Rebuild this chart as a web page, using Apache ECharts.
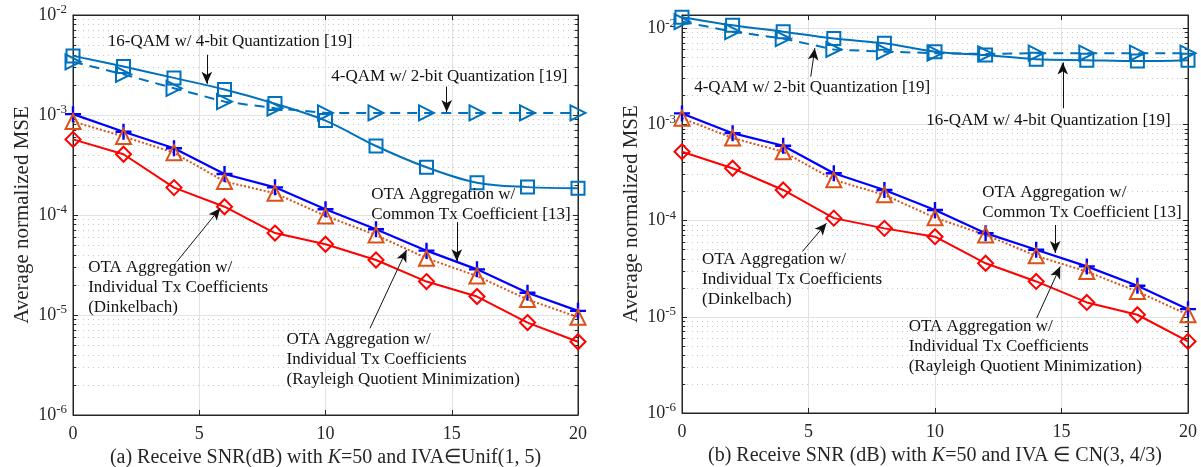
<!DOCTYPE html>
<html>
<head>
<meta charset="utf-8">
<script src="https://cdn.jsdelivr.net/npm/echarts@6/dist/echarts.min.js"></script>
<style>
  html, body { margin: 0; padding: 0; background: #fff; }
  #chart { width: 1201px; height: 467px; }
</style>
</head>
<body>
<div id="chart"></div>
<script>
// receive SNR (dB)
var snr = [0, 2, 4, 6, 8, 10, 12, 14, 16, 18, 20];

// (a) IVA ~ Unif(1, 5)
var qam16A  = [3.9e-3, 3.05e-3, 2.35e-3, 1.8e-3, 1.3e-3, 8.8e-4, 4.9e-4, 3.0e-4, 2.1e-4, 1.9e-4, 1.85e-4];
var qam4A   = [3.4e-3, 2.55e-3, 1.85e-3, 1.36e-3, 1.17e-3, 1.05e-3, 1.05e-3, 1.05e-3, 1.05e-3, 1.05e-3, 1.05e-3];
var commonA = [1.02e-3, 6.8e-4, 4.65e-4, 2.57e-4, 1.89e-4, 1.14e-4, 7.2e-5, 4.4e-5, 2.86e-5, 1.67e-5, 1.1e-5];
var rqA     = [8.6e-4, 6.1e-4, 4.2e-4, 2.16e-4, 1.65e-4, 9.8e-5, 6.3e-5, 3.7e-5, 2.45e-5, 1.43e-5, 9.5e-6];
var dinkA   = [5.7e-4, 4.05e-4, 1.88e-4, 1.21e-4, 6.6e-5, 5.1e-5, 3.55e-5, 2.16e-5, 1.53e-5, 8.4e-6, 5.4e-6];

// (b) IVA ~ CN(3, 4/3)
var qam16B  = [1.3e-2, 1.07e-2, 9.2e-3, 7.8e-3, 6.95e-3, 5.7e-3, 5.25e-3, 4.75e-3, 4.65e-3, 4.55e-3, 4.65e-3];
var qam4B   = [1.17e-2, 9.2e-3, 7.8e-3, 6.0e-3, 5.7e-3, 5.5e-3, 5.4e-3, 5.5e-3, 5.5e-3, 5.5e-3, 5.5e-3];
var commonB = [1.3e-3, 8.1e-4, 6.0e-4, 3.1e-4, 2.08e-4, 1.29e-4, 7.4e-5, 4.97e-5, 3.34e-5, 2.1e-5, 1.2e-5];
var rqB     = [1.16e-3, 7.2e-4, 5.2e-4, 2.65e-4, 1.85e-4, 1.07e-4, 7.1e-5, 4.3e-5, 2.95e-5, 1.83e-5, 1.05e-5];
var dinkB   = [5.2e-4, 3.5e-4, 2.08e-4, 1.06e-4, 8.3e-5, 6.8e-5, 3.6e-5, 2.33e-5, 1.41e-5, 1.05e-5, 5.55e-6];

var yMin = 1e-6;
var yMaxA = 1e-2;
var yMaxB = 0.0137;

var xNameA = '(a) Receive SNR(dB) with {i|K}=50 and IVA\u2208Unif(1, 5)';
var xNameB = '(b) Receive SNR (dB) with {i|K}=50 and IVA \u2208 CN(3, 4/3)';
var yName = 'Average normalized MSE';

// annotation text, text anchor (top-left), arrow start, arrow tip
var notesA = [
    {text: '16-QAM w/ 4-bit Quantization [19]', at: [1.4, 6.8e-3], from: [5.3, 4.0e-3], to: [5.3, 2.05e-3]},
    {text: '4-QAM w/ 2-bit Quantization [19]', at: [10.25, 3.04e-3], from: [14.8, 1.92e-3], to: [14.8, 1.07e-3]},
    {text: 'OTA Aggregation w/\nCommon Tx Coefficient [13]', at: [11.83, 2.0e-4], from: [15.2, 8.5e-5], to: [15.2, 3.45e-5]},
    {text: 'OTA Aggregation w/\nIndividual Tx Coefficients\n(Dinkelbach)', at: [0.62, 3.69e-5], from: [4.11, 3.41e-5], to: [5.83, 1.17e-4]},
    {text: 'OTA Aggregation w/\nIndividual Tx Coefficients\n(Rayleigh Quotient Minimization)', at: [8.48, 7.08e-6], from: [11.76, 7.35e-6], to: [13.21, 4.47e-5]}
];
var notesB = [
    {text: '4-QAM w/ 2-bit Quantization [19]', at: [0.5, 3.01e-3], from: [5.09, 3.13e-3], to: [5.25, 6.2e-3]},
    {text: '16-QAM w/ 4-bit Quantization [19]', at: [9.67, 1.36e-3], from: [15.05, 1.47e-3], to: [15.05, 4.4e-3]},
    {text: 'OTA Aggregation w/\nCommon Tx Coefficient [13]', at: [11.89, 2.48e-4], from: [14.75, 9.0e-5], to: [14.75, 4.6e-5]},
    {text: 'OTA Aggregation w/\nIndividual Tx Coefficients\n(Dinkelbach)', at: [0.81, 4.97e-5], from: [4.76, 4.77e-5], to: [5.71, 9.4e-5]},
    {text: 'OTA Aggregation w/\nIndividual Tx Coefficients\n(Rayleigh Quotient Minimization)', at: [8.98, 9.93e-6], from: [14.02, 9.7e-6], to: [14.95, 3.33e-5]}
];

var FONT = 'Liberation Serif, Times New Roman, serif';
var INK = '#262626';
var MBLUE = '#0072BD';
var plus = 'path://M0,6L12,6M6,0L6,12';

var myChart = echarts.init(document.getElementById('chart'));

function powLabel(v) {
    var l = Math.log10(v);
    var e = Math.round(l);
    if (Math.abs(l - e) > 1e-6) return '';
    return '10{s|' + e + '}';
}

// dotted minor grid lines plus short minor ticks on both y borders
function minorLines(maxV) {
    var out = [];
    for (var k = -6; k <= -2; k++) {
        for (var m = 2; m <= 9; m++) {
            var v = m * Math.pow(10, k);
            if (v >= maxV) continue;
            out.push([{coord: [0, v]}, {coord: [20, v]}]);
            out.push([{coord: [0, v], lineStyle: {color: INK, type: 'solid', width: 1}}, {coord: [0.13, v]}]);
            out.push([{coord: [19.87, v], lineStyle: {color: INK, type: 'solid', width: 1}}, {coord: [20, v]}]);
        }
    }
    return out;
}

function xAxes(g, name) {
    return [{
        type: 'value', gridIndex: g, min: 0, max: 20, interval: 5,
        name: name, nameLocation: 'middle', nameGap: 33,
        nameTextStyle: {fontSize: 20, fontFamily: FONT, color: INK,
            rich: {i: {fontSize: 20, fontFamily: FONT, color: INK, fontStyle: 'italic'}}},
        axisLine: {show: true, onZero: false, lineStyle: {color: INK, width: 1}},
        axisTick: {inside: true, length: 5, lineStyle: {color: INK}},
        axisLabel: {fontSize: 18, fontFamily: FONT, color: INK, margin: 10},
        splitLine: {show: true, lineStyle: {color: '#e2e2e2', width: 1}}
    }, {
        type: 'value', gridIndex: g, min: 0, max: 20, interval: 5, position: 'top',
        axisLine: {show: true, onZero: false, lineStyle: {color: INK, width: 1}},
        axisTick: {inside: true, length: 5, lineStyle: {color: INK}},
        axisLabel: {show: false}, splitLine: {show: false}
    }];
}

function yAxes(g, maxV, gap) {
    return [{
        type: 'log', logBase: 10, gridIndex: g, min: yMin, max: maxV,
        name: yName, nameLocation: 'middle', nameGap: gap,
        nameTextStyle: {fontSize: 21, fontFamily: FONT, color: INK},
        axisLine: {show: true, onZero: false, lineStyle: {color: INK, width: 1}},
        axisTick: {inside: true, length: 5, lineStyle: {color: INK}},
        axisLabel: {fontSize: 18, fontFamily: FONT, color: INK, margin: 6,
            formatter: powLabel,
            rich: {s: {fontSize: 13, fontFamily: FONT, color: INK, padding: [0, 0, 10, 0]}}},
        splitLine: {show: true, lineStyle: {color: '#e2e2e2', width: 1}}
    }, {
        type: 'log', logBase: 10, gridIndex: g, min: yMin, max: maxV, position: 'right',
        axisLine: {show: true, onZero: false, lineStyle: {color: INK, width: 1}},
        axisTick: {inside: true, length: 5, lineStyle: {color: INK}},
        axisLabel: {show: false}, splitLine: {show: false}
    }];
}

function pairs(ys) {
    var d = [];
    for (let i = 0; i < snr.length; i++) d.push([snr[i], ys[i]]);
    return d;
}

function curve(g, name, ys, color, lineType, symbol, size, rotate, smooth) {
    return {
        name: name, type: 'line', xAxisIndex: g * 2, yAxisIndex: g * 2,
        data: pairs(ys), smooth: smooth, z: 3,
        symbol: symbol, symbolSize: size, symbolRotate: rotate, showAllSymbol: true,
        lineStyle: {color: color, width: 2, type: lineType},
        itemStyle: {color: 'rgba(0,0,0,0)', borderColor: color, borderWidth: 2},
        animation: false, silent: true
    };
}

function panel(g, data, notes, maxV) {
    var s = [
        curve(g, '16-QAM', data[0], MBLUE, 'solid', 'rect', 13, 0, 0.35),
        curve(g, '4-QAM', data[1], MBLUE, [10, 7], 'triangle', 15, -90, false),
        curve(g, 'Common', data[2], '#0000FF', 'solid', plus, 16, 0, false),
        curve(g, 'Rayleigh', data[3], '#D95319', 'dotted', 'triangle', 15, 0, false),
        curve(g, 'Dinkelbach', data[4], '#FF0000', 'solid', 'diamond', 15, 0, false)
    ];
    s[2].lineStyle.width = 2.2;
    s[2].itemStyle.borderWidth = 2.4;
    s[0].markLine = {
        silent: true, z: 2, symbol: ['none', 'none'], label: {show: false},
        lineStyle: {color: '#c9c9c9', type: [1, 4], width: 1},
        emphasis: {disabled: true},
        data: minorLines(maxV)
    };
    var arrows = [], texts = [];
    for (let i = 0; i < notes.length; i++) {
        arrows.push([
            {coord: notes[i].from, symbol: 'none'},
            {coord: notes[i].to, symbol: 'arrow', symbolSize: [8, 12]}
        ]);
        texts.push({coord: notes[i].at, name: notes[i].text});
    }
    s[1].markLine = {
        silent: true, z: 6, symbol: ['none', 'arrow'], label: {show: false},
        lineStyle: {color: '#111', type: 'solid', width: 1},
        itemStyle: {color: '#111'},
        emphasis: {disabled: true},
        data: arrows
    };
    s[2].markPoint = {
        silent: true, z: 6, symbol: 'rect', symbolSize: 1,
        itemStyle: {color: 'rgba(0,0,0,0)'},
        label: {show: true, position: [0, 0], align: 'left', verticalAlign: 'top',
            formatter: '{b}', fontSize: 17, lineHeight: 20, fontFamily: FONT, color: '#111'},
        emphasis: {disabled: true},
        data: texts
    };
    return s;
}

var option = {
    backgroundColor: '#fff',
    animation: false,
    grid: [
        {left: 73, right: 623, top: 15, bottom: 52, show: true, borderColor: INK, borderWidth: 1,
            containLabel: false, outerBoundsMode: 'none'},
        {left: 682, right: 13, top: 15, bottom: 54, show: true, borderColor: INK, borderWidth: 1,
            containLabel: false, outerBoundsMode: 'none'}
    ],
    xAxis: xAxes(0, xNameA).concat(xAxes(1, xNameB)),
    yAxis: yAxes(0, yMaxA, 40).concat(yAxes(1, yMaxB, 40)),
    series: panel(0, [qam16A, qam4A, commonA, rqA, dinkA], notesA, yMaxA)
        .concat(panel(1, [qam16B, qam4B, commonB, rqB, dinkB], notesB, yMaxB))
};

myChart.setOption(option, true);
</script>
</body>
</html>
